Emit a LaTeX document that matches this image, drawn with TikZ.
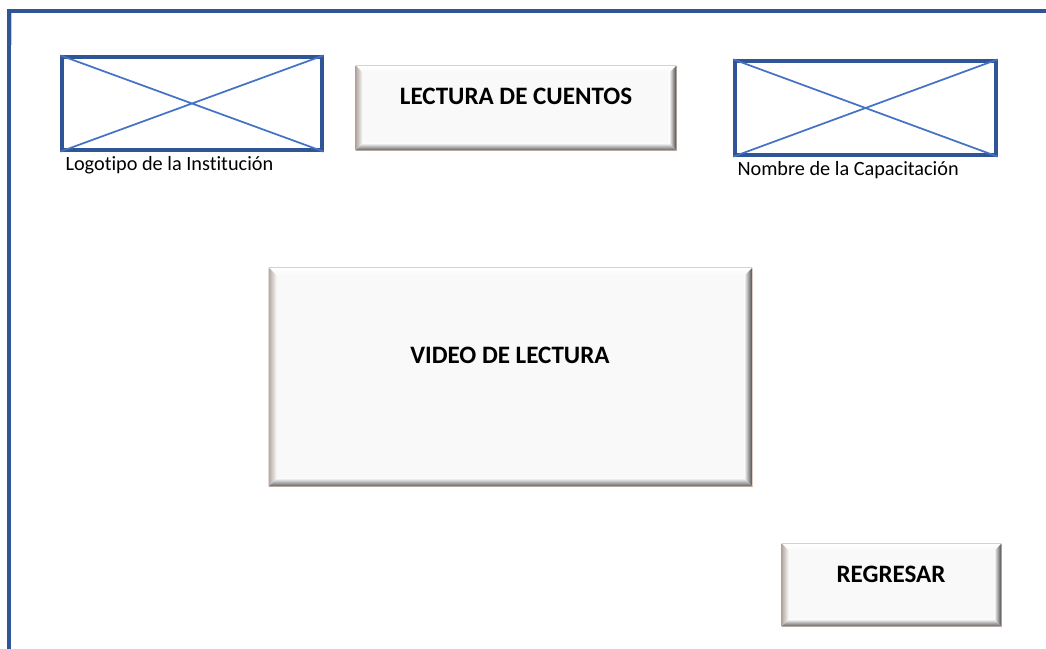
\documentclass[tikz,border=0pt]{standalone}
\usepackage{fontspec}
\setmainfont{Carlito}[Ligatures=NoCommon]
\usetikzlibrary{calc}

\definecolor{marco}{RGB}{47,85,151}
\definecolor{diag}{RGB}{68,114,196}
\definecolor{cara}{RGB}{249,249,249}
\definecolor{borde}{RGB}{222,206,196}

\tikzset{every picture/.style={line width=0.75pt}}
\tikzset{
  imagen/.style={draw=marco, line width=2.4pt, inner sep=0pt},
  boton/.style={fill=cara, draw=borde, line width=0.5pt, inner sep=0pt},
  rotulo/.style={font=\bfseries\fontsize{18.8}{22}\selectfont},
  pie/.style={font=\fontsize{15.2}{18}\selectfont, anchor=west, inner sep=0pt}
}

% bisel del boton #1, ancho #2
\newcommand{\bisel}[2]{%
  \coordinate (#1-nw) at ($(#1.north west)+(#2,#2)$);
  \coordinate (#1-ne) at ($(#1.north east)+(-#2,#2)$);
  \coordinate (#1-sw) at ($(#1.south west)+(#2,-#2)$);
  \coordinate (#1-se) at ($(#1.south east)+(-#2,-#2)$);
  \shade [top color=white, bottom color=cara] (#1.north west) -- (#1.north east) -- (#1-ne) -- (#1-nw) -- cycle;
  \shade [left color={rgb,255:red,180;green,166;blue,160}, right color=cara] (#1.north west) -- (#1-nw) -- (#1-sw) -- (#1.south west) -- cycle;
  \shade [left color=cara, right color=black!72] (#1.north east) -- (#1.south east) -- (#1-se) -- (#1-ne) -- cycle;
  \shade [top color=cara, bottom color=black!62] (#1.south west) -- (#1.south east) -- (#1-se) -- (#1-sw) -- cycle;
  \draw [borde, line width=0.6pt] (#1.north west) -- (#1.north east);
}

\begin{document}
\begin{tikzpicture}[x=0.75pt,y=0.75pt,yscale=-1]
\useasboundingbox (0,0) rectangle (1046,649);

%Marco de la pantalla
\draw [marco, line width=2.4pt] (9,649) -- (9,11) -- (1046,11) ;
\draw [orange!50, line width=1pt] (11.8,13) -- (11.8,45) ;

%Logotipo
\node [imagen, minimum width=260*0.75pt, minimum height=93*0.75pt] (logo) at (192,103.5) {};
\draw [diag, line width=1.3pt] (logo.north west) -- (logo.south east) (logo.north east) -- (logo.south west) ;
\node [pie] (logo-t) at (65,165) {Logotipo de la Institución};

%Nombre
\node [imagen, minimum width=261*0.75pt, minimum height=94*0.75pt] (nombre) at (865.5,108) {};
\draw [diag, line width=1.3pt] (nombre.north west) -- (nombre.south east) (nombre.north east) -- (nombre.south west) ;
\node [pie] (nombre-t) at (737,170) {Nombre de la Capacitación};

%Lectura de cuentos
\node [boton, minimum width=320*0.75pt, minimum height=84*0.75pt] (lectura) at (516,108) {};
\bisel{lectura}{7}
\node [rotulo] (lectura-t) at (516,96) {LECTURA DE CUENTOS};

%Video
\node [boton, minimum width=483*0.75pt, minimum height=218*0.75pt] (video) at (510.5,377) {};
\bisel{video}{8}
\node [rotulo] (video-t) at (510,355) {VIDEO DE LECTURA};

%Regresar
\node [boton, minimum width=219*0.75pt, minimum height=82*0.75pt] (regresar) at (891.5,585) {};
\bisel{regresar}{7}
\node [rotulo] (regresar-t) at (891,574) {REGRESAR};

\end{tikzpicture}
\end{document}
